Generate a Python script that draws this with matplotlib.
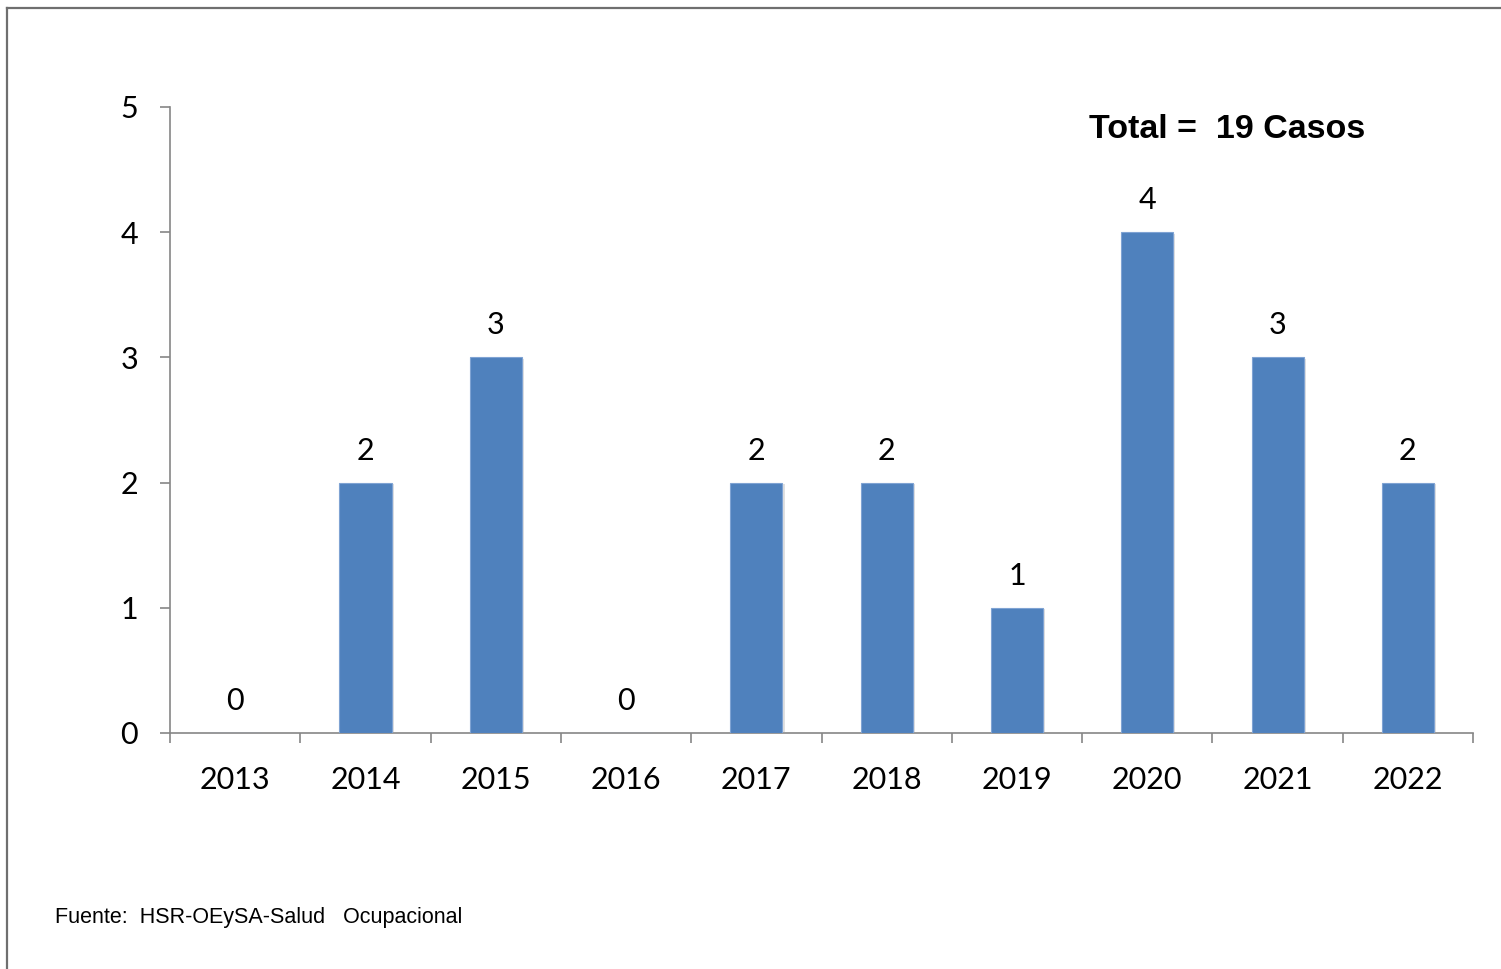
import numpy as np
import matplotlib
matplotlib.use("Agg")
import matplotlib.pyplot as plt
import matplotlib.patheffects as pe
from matplotlib.lines import Line2D

anios = ["2013", "2014", "2015", "2016", "2017", "2018", "2019", "2020", "2021", "2022"]
casos = [0, 2, 3, 0, 2, 2, 1, 4, 3, 2]
total_texto = "Total =  19 Casos"
fuente_texto = "Fuente:  HSR-OEySA-Salud   Ocupacional"

color_barra = "#4F81BD"
color_eje = "#868686"

fig = plt.figure(figsize=(15.01, 9.69), dpi=100)
ax = fig.add_axes([0.1133, 0.2436, 0.8681, 0.6460])

x = np.arange(len(anios))
barras = ax.bar(x, casos, width=0.4, color=color_barra, edgecolor="#7FA3D3", linewidth=0.8,
                zorder=3)
for b in barras:
    b.set_path_effects([pe.SimplePatchShadow(offset=(1.5, -1), shadow_rgbFace="#9a9a9a", alpha=0.3),
                        pe.Normal()])

for xi, v in zip(x, casos):
    ax.annotate(str(v), (xi, v), xytext=(0, 13), textcoords="offset points",
                ha="center", va="bottom", fontsize=22, family="Lato")

ax.set_xlim(-0.5, len(anios) - 0.5)
ax.set_ylim(0, 5)
ax.set_yticks(range(0, 6))
ax.set_yticklabels([str(i) for i in range(0, 6)], fontsize=22, family="Lato")
ax.tick_params(axis="y", length=7, width=1.2, color=color_eje, pad=16)

# ticks en los limites de categoria, etiquetas en el centro
ax.set_xticks(np.arange(-0.5, len(anios), 1.0))
ax.set_xticklabels([])
ax.tick_params(axis="x", which="major", length=7, width=1.2, color=color_eje)
ax.set_xticks(x, minor=True)
ax.set_xticklabels(anios, minor=True, fontsize=22, family="Lato")
ax.tick_params(axis="x", which="minor", length=0, pad=24)

for s in ["top", "right"]:
    ax.spines[s].set_visible(False)
for s in ["left", "bottom"]:
    ax.spines[s].set_color(color_eje)
    ax.spines[s].set_linewidth(1.2)

fig.text(1089 / 1501, 1 - 129 / 969, total_texto, fontsize=24.5, fontweight="bold",
         family="Liberation Sans", ha="left", va="center")
fig.text(55 / 1501, 1 - 917 / 969, fuente_texto, fontsize=15.5,
         family="Liberation Sans", ha="left", va="center")

# marco exterior
fig.add_artist(Line2D([7 / 1501, 7 / 1501], [0, 1 - 8 / 969], color="#6f6f6f", lw=1.6))
fig.add_artist(Line2D([7 / 1501, 1], [1 - 8 / 969, 1 - 8 / 969], color="#6f6f6f", lw=1.6))

fig.savefig("out.png", dpi=100)
